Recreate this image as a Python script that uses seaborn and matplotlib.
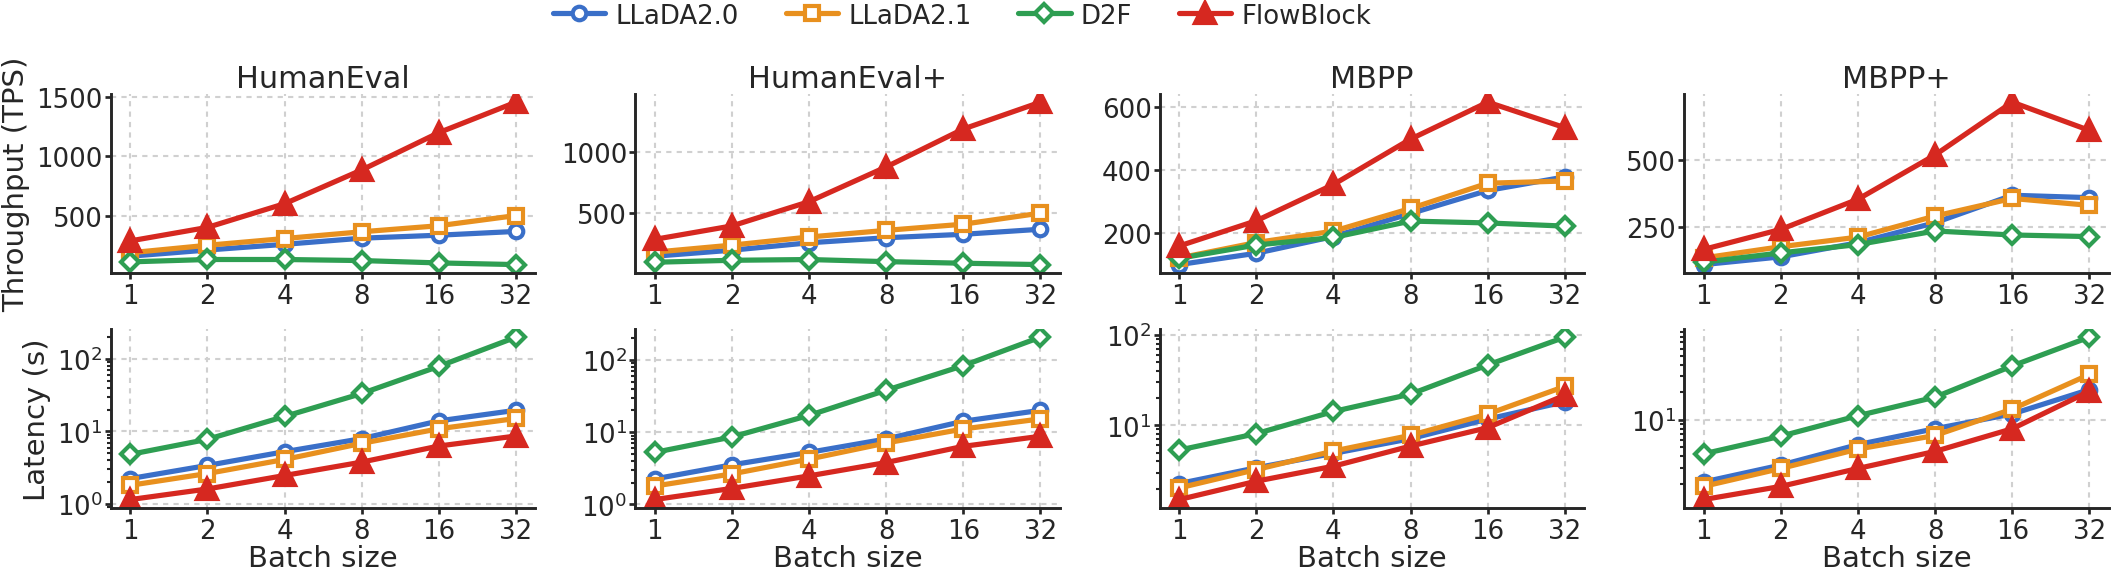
import numpy as np
import pandas as pd
import matplotlib
matplotlib.use("Agg")
import matplotlib.pyplot as plt
import matplotlib.ticker as mticker
import seaborn as sns

# batch sizes on the x axis
batch_sizes = [1, 2, 4, 8, 16, 32]
benchmarks = ["HumanEval", "HumanEval+", "MBPP", "MBPP+"]
methods = ["LLaDA2.0", "LLaDA2.1", "D2F", "FlowBlock"]

# throughput (TPS), one list per method, one row per benchmark
tps_llada20 = [[157, 209, 257, 309, 334, 366],
               [153, 202, 262, 303, 331, 372],
               [101, 137, 190, 263, 336, 379],
               [108, 137, 190, 265, 368, 359]]
tps_llada21 = [[186, 249, 306, 363, 414, 500],
               [186, 243, 309, 363, 413, 503],
               [122, 171, 207, 279, 359, 366],
               [133, 175, 211, 290, 356, 330]]
tps_d2f = [[109, 129, 129, 120, 100, 86],
           [104, 120, 126, 109, 96, 85],
           [121, 163, 187, 239, 233, 223],
           [117, 152, 183, 234, 219, 213]]
tps_flowblock = [[286, 400, 600, 885, 1200, 1457],
                 [290, 399, 596, 878, 1186, 1404],
                 [160, 240, 355, 499, 616, 535],
                 [165, 240, 353, 519, 717, 611]]

# latency (s)
lat_llada20 = [[2.24, 3.40, 5.26, 7.96, 14.0, 19.6],
               [2.26, 3.54, 5.26, 8.07, 14.2, 20.1],
               [2.27, 3.39, 4.89, 7.11, 11.7, 18.2],
               [2.10, 3.21, 5.37, 8.01, 11.6, 21.4]]
lat_llada21 = [[1.81, 2.63, 4.11, 6.86, 10.9, 15.1],
               [1.80, 2.65, 4.25, 7.10, 11.1, 15.3],
               [2.03, 3.24, 5.19, 7.74, 13.3, 26.9],
               [1.88, 2.95, 4.80, 6.76, 13.1, 31.3]]
lat_d2f = [[4.83, 7.79, 16.1, 33.4, 79.1, 200],
           [5.26, 8.60, 17.1, 38.1, 83.4, 207],
           [5.32, 8.08, 14.2, 22.1, 46.4, 94.2],
           [4.26, 6.64, 11.1, 17.7, 38.8, 80.0]]
lat_flowblock = [[1.15, 1.61, 2.47, 3.78, 6.30, 8.66],
                 [1.17, 1.67, 2.49, 3.81, 6.38, 8.79],
                 [1.51, 2.41, 3.53, 5.89, 9.42, 21.5],
                 [1.35, 1.88, 2.95, 4.53, 8.00, 20.5]]

tps_ticks = [[500, 1000, 1500], [500, 1000], [200, 400, 600], [250, 500]]

colors = {"LLaDA2.0": "#3a6fc8", "LLaDA2.1": "#e8901e",
          "D2F": "#2e9e52", "FlowBlock": "#d62820"}
markers = {"LLaDA2.0": "o", "LLaDA2.1": "s", "D2F": "D", "FlowBlock": "^"}
msizes = {"LLaDA2.0": 6.5, "LLaDA2.1": 6.5, "D2F": 6, "FlowBlock": 9.5}

tps = {"LLaDA2.0": tps_llada20, "LLaDA2.1": tps_llada21,
       "D2F": tps_d2f, "FlowBlock": tps_flowblock}
lat = {"LLaDA2.0": lat_llada20, "LLaDA2.1": lat_llada21,
       "D2F": lat_d2f, "FlowBlock": lat_flowblock}

TICK_FS = 12.5
LABEL_FS = 14
TITLE_FS = 14.5
LEGEND_FS = 12.5

sns.set_style("ticks")
plt.rcParams["font.family"] = ["DejaVu Sans"]
plt.rcParams["font.size"] = TICK_FS

fig, axes = plt.subplots(2, 4, figsize=(14.1, 3.7933), dpi=150)
fig.subplots_adjust(left=0.0525, right=0.997, top=0.833, bottom=0.106,
                    wspace=0.236, hspace=0.315)


def draw(ax, data, b):
    ax.set_xscale("log", base=2)
    for m in methods:
        df = pd.DataFrame({"batch": batch_sizes, "val": data[m][b]})
        face = colors[m] if m == "FlowBlock" else "white"
        sns.lineplot(data=df, x="batch", y="val", ax=ax, label=m,
                     color=colors[m], marker=markers[m], markersize=msizes[m],
                     markerfacecolor=face, markeredgecolor=colors[m],
                     markeredgewidth=2, linewidth=2.5, legend=False)
    ax.set_xticks(batch_sizes)
    ax.xaxis.set_major_formatter(mticker.FixedFormatter([str(x) for x in batch_sizes]))
    ax.xaxis.set_minor_locator(mticker.NullLocator())
    ax.grid(True, which="major", linestyle=(0, (2.5, 2.5)), color="#d0d0d0", linewidth=1)
    ax.set_axisbelow(True)
    sns.despine(ax=ax)
    for s in ["left", "bottom"]:
        ax.spines[s].set_linewidth(1.4)
    ax.tick_params(axis="both", which="major", labelsize=TICK_FS, length=3, width=1.3, pad=1)
    ax.tick_params(axis="x", which="major", pad=2)
    ax.tick_params(axis="y", which="minor", length=2, width=1.0)
    ax.set_xlabel("")
    ax.set_ylabel("")


for b, name in enumerate(benchmarks):
    ax_t = axes[0, b]
    draw(ax_t, tps, b)
    ax_t.set_yticks(tps_ticks[b])
    ax_t.set_title(name, fontsize=TITLE_FS, pad=3.5)

    ax_l = axes[1, b]
    ax_l.set_yscale("log")
    draw(ax_l, lat, b)
    ax_l.set_xlabel("Batch size", fontsize=LABEL_FS, labelpad=0)

axes[0, 0].set_ylabel("Throughput (TPS)", fontsize=LABEL_FS, labelpad=3)
axes[1, 0].set_ylabel("Latency (s)", fontsize=LABEL_FS, labelpad=3)

handles, labels = axes[0, 0].get_legend_handles_labels()
fig.legend(handles, labels, loc="upper center", bbox_to_anchor=(0.455, 1.035),
           ncol=4, frameon=False, fontsize=LEGEND_FS, handlelength=2.0,
           handletextpad=0.4, columnspacing=1.8)

fig.savefig("out.png", dpi=150)
